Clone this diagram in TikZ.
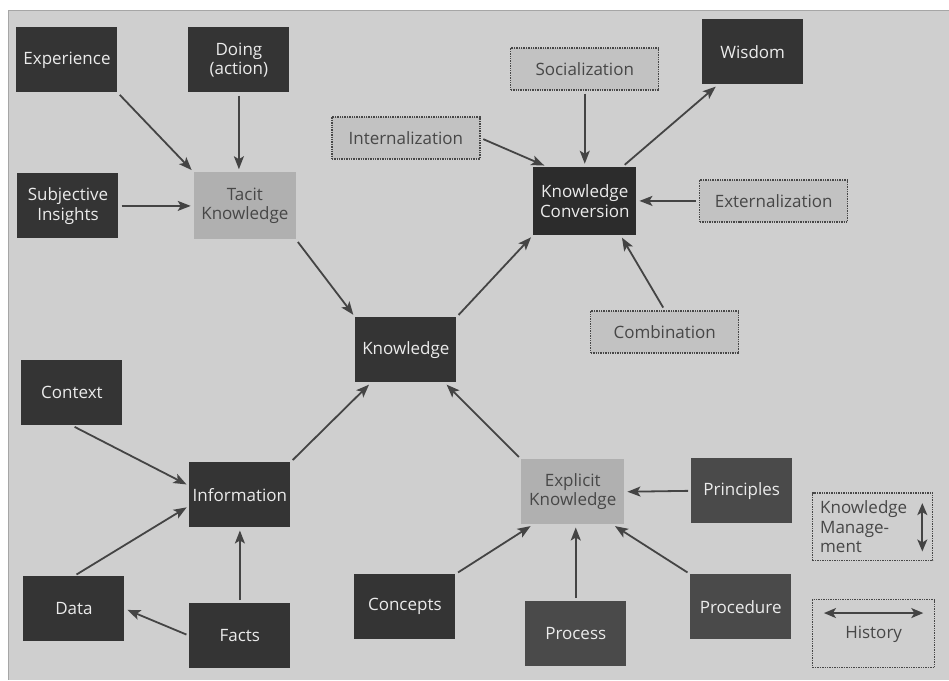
\documentclass[tikz,border=0pt]{standalone}
\usepackage{fontspec}
\setmainfont{Open Sans}
\usetikzlibrary{calc,arrows.meta}

\definecolor{paper}{HTML}{CFCFCF}
\definecolor{boxdark}{HTML}{343434}
\definecolor{boxmid}{HTML}{4A4A4A}
\definecolor{boxlight}{HTML}{B0B0B0}
\definecolor{boxdot}{HTML}{C2C2C2}
\definecolor{inkgray}{HTML}{474747}
\definecolor{linkgray}{HTML}{444444}

\tikzset{
  basebox/.style={rectangle, inner sep=1pt, align=center,
    font=\fontsize{17}{19.5}\selectfont},
  darkbox/.style={basebox, fill=boxdark, text=white!92!black,
    minimum width=101pt, minimum height=65pt},
  midbox/.style={darkbox, fill=boxmid},
  lightbox/.style={basebox, fill=boxlight, text=inkgray,
    minimum width=102pt, minimum height=67pt},
  dotbox/.style={basebox, fill=boxdot, text=inkgray,
    draw=inkgray, line width=1.4pt, densely dotted,
    minimum width=148pt, minimum height=42pt},
  legendbox/.style={basebox, draw=inkgray, line width=1.4pt, densely dotted,
    text=inkgray, minimum width=120pt, minimum height=68pt},
  link/.style={draw=linkgray, line width=1.8pt,
    -{Stealth[length=13pt,width=10pt,inset=3pt]},
    shorten <=3pt, shorten >=3pt},
  twoway/.style={draw=linkgray, line width=1.8pt,
    {Stealth[length=12pt,width=10pt,inset=3pt]}-{Stealth[length=12pt,width=10pt,inset=3pt]}}
}

\begin{document}
\begin{tikzpicture}[x=1pt,y=-1pt]
  % page and photographed sheet
  \fill[white] (0,0) rectangle (949,680);
  \fill[paper] (8,10) rectangle (949,680);
  \draw[gray!70, line width=0.8pt] (8,680) -- (8,10) -- (949,10);
  \useasboundingbox (0,0) rectangle (949,680);

  % tacit side
  \node[darkbox] (exp)   at (67,60)   {Experience};
  \node[darkbox] (doing) at (239,60)  {Doing\\(action)};
  \node[darkbox] (subj)  at (68,206)  {Subjective\\Insights};
  \node[lightbox] (tacit) at (245,206) {Tacit\\Knowledge};

  % conversion modes
  \node[dotbox] (soc)    at (585,69)  {Socialization};
  \node[dotbox] (intern) at (406,138) {Internalization};
  \node[darkbox, fill=boxdark!85!black, minimum width=103pt, minimum height=68pt]
        (kc) at (585,201) {Knowledge\\Conversion};
  \node[darkbox] (wis)   at (753,52)  {Wisdom};
  \node[dotbox] (ext)    at (774,201) {Externalization};
  \node[dotbox] (comb)   at (665,332) {Combination};

  % centre
  \node[darkbox] (know)  at (406,350) {Knowledge};

  % information side
  \node[darkbox] (ctx)   at (72,393)  {Context};
  \node[darkbox] (info)  at (240,495) {Information};
  \node[darkbox] (data)  at (74,609)  {Data};
  \node[darkbox] (facts) at (240,636) {Facts};

  % explicit side
  \node[darkbox] (conc)  at (405,607) {Concepts};
  \node[lightbox, minimum width=103pt, minimum height=65pt]
        (expl) at (573,492) {Explicit\\Knowledge};
  \node[midbox] (princ)  at (742,491) {Principles};
  \node[midbox] (proc)   at (576,634) {Process};
  \node[midbox] (pced)   at (741,607) {Procedure};

  % legend
  \node[legendbox] (km) at (873,527) {};
  \node[basebox, text=inkgray, align=left, anchor=west] (kmtext)
        at ($(km.west)+(7,0)$) {Knowledge\\Manage-\\ment};
  \coordinate (kmtop) at ($(km.north east)+(-11,11)$);
  \coordinate (kmbot) at ($(km.south east)+(-11,-10)$);
  \draw[twoway] (kmtop) -- (kmbot);

  \node[legendbox, minimum width=122pt] (hist) at (874,634) {};
  \node[basebox, text=inkgray] (histtext) at ($(hist.center)+(0,1)$) {History};
  \coordinate (hleft)  at ($(hist.north west)+(12,14)$);
  \coordinate (hright) at ($(hist.north east)+(-12,14)$);
  \draw[twoway] (hleft) -- (hright);

  % connectors: tacit
  \draw[link] (exp.south east) -- (tacit.north west);
  \draw[link] (doing.south) -- (doing.south |- tacit.north);
  \draw[link] (subj.east) -- (tacit.west);
  \draw[link] (tacit.south east) -- (know.north west);

  % connectors: conversion
  \draw[link] (know.north east) -- (kc.south west);
  \draw[link] (soc.south) -- (kc.north);
  \draw[link] (intern.east) -- ($(kc.north west)+(14,0)$);
  \draw[link] ($(kc.north east)+(-14,0)$) -- ($(wis.south west)+(16,0)$);
  \draw[link] (ext.west) -- (kc.east);
  \draw[link] (comb.north) -- ($(kc.south east)+(-16,0)$);

  % connectors: information
  \draw[link] (info.north east) -- ($(know.south west)+(16,0)$);
  \draw[link] (ctx.south) -- ($(info.west)+(0,-9)$);
  \draw[link] (data.north) -- ($(info.west)+(0,11)$);
  \draw[link] (facts.north) -- (info.south);
  \draw[link] (facts.west) -- (data.east);

  % connectors: explicit
  \draw[link] (expl.north west) -- ($(know.south east)+(-12,0)$);
  \draw[link] (conc.north east) -- ($(expl.south west)+(12,0)$);
  \draw[link] (proc.north) -- (proc.north |- expl.south);
  \draw[link] (pced.north west) -- ($(expl.south east)+(-12,0)$);
  \draw[link] (princ.west) -- (expl.east);
\end{tikzpicture}
\end{document}
